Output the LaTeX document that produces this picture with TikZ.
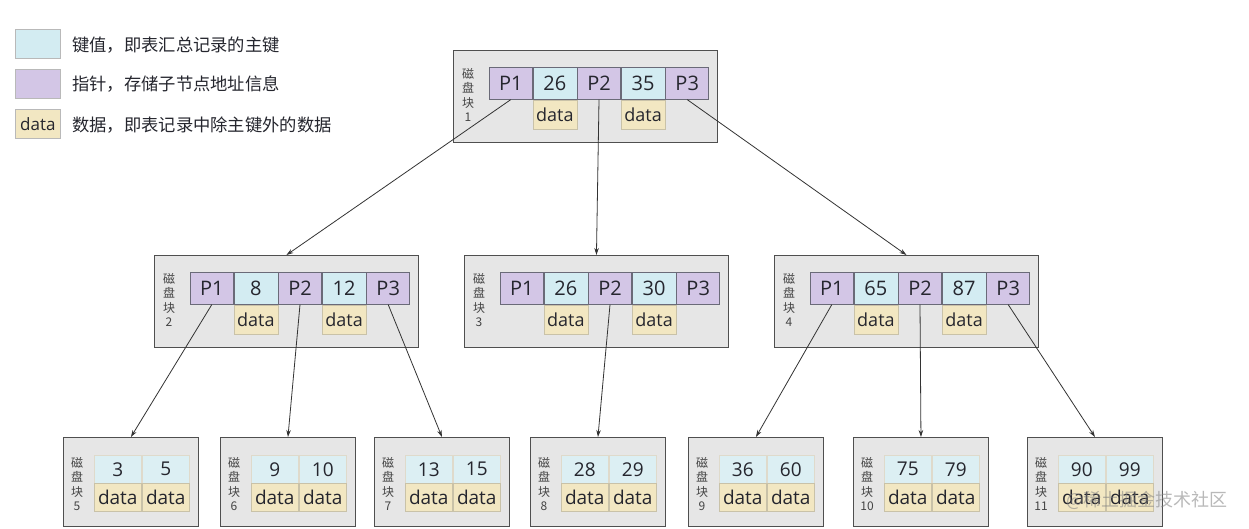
\documentclass[tikz,border=0pt]{standalone}
\usepackage{fontspec}
\setmainfont{Open Sans}
\newfontfamily\cjk{Noto Sans CJK SC}
\usetikzlibrary{arrows.meta}
\definecolor{keyc}{HTML}{D3ECF2}
\definecolor{leafkeyc}{HTML}{DCEFF3}
\definecolor{ptrc}{HTML}{D3C6E6}
\definecolor{datac}{HTML}{F2E7C2}
\definecolor{blockgray}{HTML}{E6E6E6}
\definecolor{blockline}{HTML}{4F4F4F}
\definecolor{cellline}{HTML}{6A6A78}
\definecolor{dataline}{HTML}{C9C2A8}
\definecolor{txt}{HTML}{25262E}
\definecolor{labc}{HTML}{444444}
\definecolor{arrowc}{HTML}{333333}
\tikzset{
  blockbox/.style={draw=blockline, fill=blockgray, line width=0.9pt, anchor=north west, inner sep=0pt},
  pcell/.style={draw=cellline, fill=ptrc, line width=0.6pt, anchor=north west, minimum width=43pt, minimum height=32pt, inner sep=0pt, font=\fontsize{20}{24}\selectfont, text=txt},
  kcell/.style={draw=cellline, fill=keyc, line width=0.6pt, anchor=north west, minimum width=44pt, minimum height=32pt, inner sep=0pt, font=\fontsize{20}{24}\selectfont, text=txt},
  dcell/.style={draw=dataline, fill=datac, line width=0.6pt, anchor=north, minimum width=44pt, minimum height=29pt, inner sep=0pt, font=\fontsize{18}{22}\selectfont, text=txt},
  lkcell/.style={draw=dataline!60!white, fill=leafkeyc, line width=0.5pt, anchor=north west, minimum width=47pt, minimum height=28pt, inner sep=0pt, font=\fontsize{19}{22}\selectfont, text=txt},
  ldcell/.style={draw=dataline, fill=datac, line width=0.5pt, anchor=north west, minimum width=47pt, minimum height=28pt, inner sep=0pt, font=\fontsize{19}{22}\selectfont, text=txt},
  blabel/.style={align=center, font=\cjk\fontsize{12}{14.5}\selectfont, text=labc, inner sep=0pt},
  conn/.style={draw=arrowc, line width=0.8pt, -{Stealth[length=7pt,width=4.5pt]}},
  legbox/.style={draw=gray!55, line width=0.6pt, anchor=north west, minimum width=45pt, minimum height=29pt, inner sep=0pt},
  legtext/.style={anchor=west, inner sep=0pt, font=\cjk\fontsize{17.3}{20}\selectfont, text=txt},
}
% internal block: name, left, top, label, key1, key2
\newcommand\innerblk[6]{%
  \node[blockbox, minimum width=264pt, minimum height=92pt] (#1) at (#2,#3) {};
  \node[blabel] (#1lab) at (#2+15,#3+45) {磁\\盘\\块\\#4};
  \node[pcell] (#1p1) at (#2+36,#3+17) {P1};
  \node[kcell] (#1k1) at (#1p1.north east) {#5};
  \node[pcell] (#1p2) at (#1k1.north east) {P2};
  \node[kcell] (#1k2) at (#1p2.north east) {#6};
  \node[pcell] (#1p3) at (#1k2.north east) {P3};
  \node[dcell] (#1d1) at (#1k1.south) {data};
  \node[dcell] (#1d2) at (#1k2.south) {data};
}
% leaf block: name, left, label, key1, key2
\newcommand\leafblk[5]{%
  \node[blockbox, minimum width=135pt, minimum height=89pt] (#1) at (#2,437) {};
  \node[blabel] (#1lab) at (#2+14,484) {磁\\盘\\块\\#3};
  \node[lkcell] (#1k1) at (#2+31,455) {#4};
  \node[lkcell] (#1k2) at (#2+79,455) {#5};
  \node[ldcell] (#1d1) at (#2+31,483) {data};
  \node[ldcell] (#1d2) at (#2+79,483) {data};
}
\begin{document}
\begin{tikzpicture}[x=1pt,y=-1pt]
\useasboundingbox[fill=white] (0,0) rectangle (1249,528);
% legend
\node[legbox, fill=keyc] (lk) at (15,29) {};
\node[legtext] (lkt) at (72,45) {键值，即表汇总记录的主键};
\node[legbox, fill=ptrc] (lp) at (15,69) {};
\node[legtext] (lpt) at (72,84) {指针，存储子节点地址信息};
\node[legbox, fill=datac, font=\fontsize{17}{20}\selectfont, text=txt] (ld) at (15,109) {data};
\node[legtext] (ldt) at (72,125) {数据，即表记录中除主键外的数据};
% blocks
\innerblk{b1}{453}{50}{1}{26}{35}
\innerblk{b2}{154}{255}{2}{8}{12}
\innerblk{b3}{464}{255}{3}{26}{30}
\innerblk{b4}{774}{255}{4}{65}{87}
\leafblk{b5}{63}{5}{3}{5}
\leafblk{b6}{220}{6}{9}{10}
\leafblk{b7}{374}{7}{13}{15}
\leafblk{b8}{530}{8}{28}{29}
\leafblk{b9}{688}{9}{36}{60}
\leafblk{b10}{853}{10}{75}{79}
\leafblk{b11}{1027}{11}{90}{99}
% connectors
\draw[conn] (b1p1.south) -- (b2.north);
\draw[conn] (b1p2.south) -- (b3.north);
\draw[conn] (b1p3.south) -- (b4.north);
\draw[conn] (b2p1.south) -- (b5.north);
\draw[conn] (b2p2.south) -- (b6.north);
\draw[conn] (b2p3.south) -- (b7.north);
\draw[conn] (b3p2.south) -- (b8.north);
\draw[conn] (b4p1.south) -- (b9.north);
\draw[conn] (b4p2.south) -- (b10.north);
\draw[conn] (b4p3.south) -- (b11.north);
% watermark
\node[anchor=west, inner sep=0pt, font=\cjk\fontsize{18}{20}\selectfont, text=gray, opacity=0.55] (wm) at (1066,500) {@稀土掘金技术社区};
\end{tikzpicture}
\end{document}
